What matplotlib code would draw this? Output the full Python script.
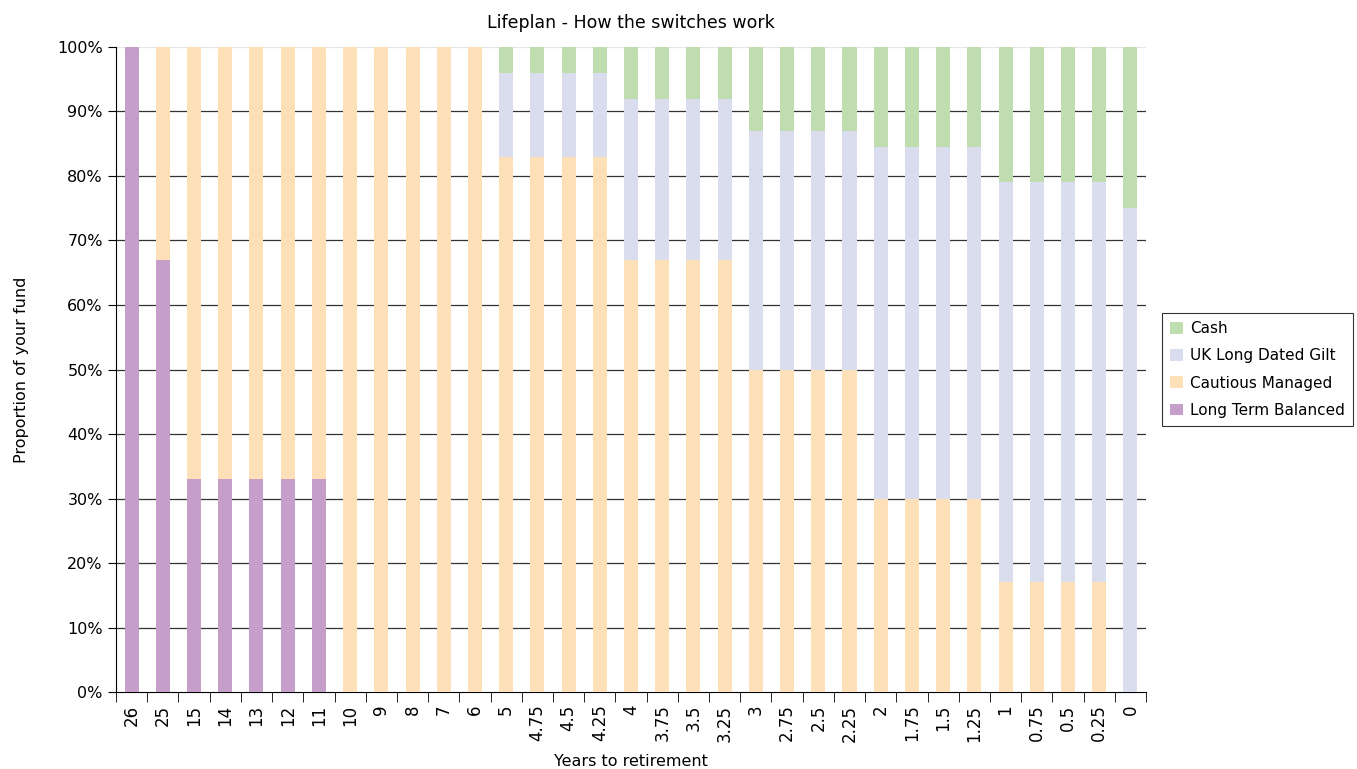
import numpy as np
import matplotlib
matplotlib.use('Agg')
from matplotlib import pyplot as plt
from matplotlib.ticker import MultipleLocator, FixedLocator

# 데이터
years = ['26', '25', '15', '14', '13', '12', '11', '10', '9', '8', '7', '6',
         '5', '4.75', '4.5', '4.25', '4', '3.75', '3.5', '3.25',
         '3', '2.75', '2.5', '2.25', '2', '1.75', '1.5', '1.25',
         '1', '0.75', '0.5', '0.25', '0']
long_term = [100, 67, 33, 33, 33, 33, 33, 0, 0, 0, 0, 0,
             0, 0, 0, 0, 0, 0, 0, 0, 0, 0, 0, 0, 0, 0, 0, 0, 0, 0, 0, 0, 0]
cautious = [0, 33, 67, 67, 67, 67, 67, 100, 100, 100, 100, 100,
            83, 83, 83, 83, 67, 67, 67, 67, 50, 50, 50, 50,
            30, 30, 30, 30, 17, 17, 17, 17, 0]
gilt = [0, 0, 0, 0, 0, 0, 0, 0, 0, 0, 0, 0,
        13, 13, 13, 13, 25, 25, 25, 25, 37, 37, 37, 37,
        54.5, 54.5, 54.5, 54.5, 62, 62, 62, 62, 75]
cash = [0, 0, 0, 0, 0, 0, 0, 0, 0, 0, 0, 0,
        4, 4, 4, 4, 8, 8, 8, 8, 13, 13, 13, 13,
        15.5, 15.5, 15.5, 15.5, 21, 21, 21, 21, 25]

plt.rcParams['font.family'] = ['DejaVu Sans']

fig = plt.figure(figsize=(13.57, 7.69), dpi=100)
ax = fig.add_axes([0.0855, 0.1001, 0.759, 0.8388])

x = np.arange(len(years))
w = 0.45
b1 = np.array(long_term)
b2 = b1 + np.array(cautious)
b3 = b2 + np.array(gilt)

ax.bar(x, long_term, w, color='#C59FC9', label='Long Term Balanced', zorder=3)
ax.bar(x, cautious, w, bottom=b1, color='#FDDFB8', label='Cautious Managed', zorder=3)
ax.bar(x, gilt, w, bottom=b2, color='#D9DDEE', label='UK Long Dated Gilt', zorder=3)
ax.bar(x, cash, w, bottom=b3, color='#BFDDAF', label='Cash', zorder=3)

ax.set_xlim(-0.5, len(years) - 0.5)
ax.set_ylim(0, 100)
ax.yaxis.set_major_locator(MultipleLocator(10))
ax.set_yticklabels([f'{int(v)}%' for v in ax.get_yticks()])
for v in range(10, 100, 10):
    ax.axhline(v, color='#333333', linewidth=0.9, zorder=1)
ax.axhline(100, color='#E6E6E6', linewidth=0.9, zorder=1)

ax.set_xticks(x)
ax.set_xticklabels(years, rotation=90, fontsize=12)
ax.tick_params(axis='x', which='major', length=0, pad=9)
ax.xaxis.set_minor_locator(FixedLocator(np.arange(-0.5, len(years), 1)))
ax.tick_params(axis='x', which='minor', length=7, color='black')
ax.tick_params(axis='y', length=6, labelsize=11.5)

for s in ['top', 'right']:
    ax.spines[s].set_visible(False)

ax.set_title('Lifeplan - How the switches work', fontsize=12.5, pad=14)
ax.set_xlabel('Years to retirement', fontsize=11.5, labelpad=9)
ax.set_ylabel('Proportion of your fund', fontsize=11.5, labelpad=20)

handles, labels = ax.get_legend_handles_labels()
leg = ax.legend(handles[::-1], labels[::-1], loc='center left',
                bbox_to_anchor=(1.011, 0.5), frameon=True, fancybox=False,
                edgecolor='black', fontsize=11, handlelength=0.8,
                handleheight=0.8, handletextpad=0.5, borderpad=0.55,
                borderaxespad=0.3, labelspacing=0.8)
leg.get_frame().set_linewidth(0.8)

fig.savefig('out.png', dpi=100)
